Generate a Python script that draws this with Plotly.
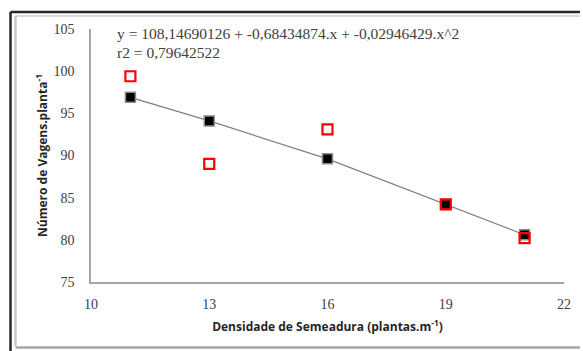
import plotly.graph_objects as go

densidade = [11, 13, 16, 19, 21]
observado = [99.4, 89.0, 93.1, 84.2, 80.2]
estimado = [96.9, 94.1, 89.6, 84.2, 80.6]
x_ticks = [10, 13, 16, 19, 22]
y_ticks = [75, 80, 85, 90, 95, 100, 105]
equacao = "y = 108,14690126 + -0,68434874.x + -0,02946429.x^2"
r2_txt = "r2 = 0,79642522"

SERIF = "Liberation Serif"

fig = go.Figure()
fig.add_trace(go.Scatter(
    x=densidade, y=estimado, mode="lines+markers",
    line=dict(color="#7f7f7f", width=1.2),
    marker=dict(symbol="square", size=10, color="black",
                line=dict(color="#8c8c8c", width=1.5)),
    showlegend=False))
fig.add_trace(go.Scatter(
    x=densidade, y=observado, mode="markers",
    marker=dict(symbol="square-open", size=10, color="#ff0000",
                line=dict(color="#ff0000", width=2.2)),
    showlegend=False))

tick_font = dict(family=SERIF, size=14, color="#404040")
title_font = dict(family="Open Sans", size=12, color="#262626")

fig.update_layout(
    width=583, height=351,
    margin=dict(l=91, r=16, t=29, b=69),
    paper_bgcolor="white", plot_bgcolor="white",
    xaxis=dict(range=[10, 22], tickvals=x_ticks, showgrid=False, zeroline=False,
               showline=True, linecolor="#a6a6a6", linewidth=1.5,
               ticks="", tickfont=tick_font, ticklabelstandoff=8,
               title=dict(text="<b>Densidade de Semeadura (plantas.m<sup>-1</sup>)</b>",
                          font=title_font, standoff=12)),
    yaxis=dict(range=[75, 105], tickvals=y_ticks, showgrid=False, zeroline=False,
               showline=True, linecolor="#a6a6a6", linewidth=1.5,
               ticks="", tickfont=tick_font, ticklabelstandoff=12,
               title=dict(text="<b>Número de Vagens.planta<sup>-1</sup></b>",
                          font=title_font, standoff=3)),
)

fig.add_annotation(x=10.6, y=104.5, xref="x", yref="y", text=equacao,
                   showarrow=False, xanchor="left", yanchor="middle",
                   font=dict(family=SERIF, size=15.5, color="#404040"))
fig.add_annotation(x=10.6, y=102.2, xref="x", yref="y", text=r2_txt,
                   showarrow=False, xanchor="left", yanchor="middle",
                   font=dict(family=SERIF, size=15.5, color="#404040"))

# frame
W, H = 583, 351
def px(x): return (x - 91) / (W - 91 - 16)
def py(y): return (H - 69 - y) / (H - 29 - 69)
fig.add_shape(type="line", xref="paper", yref="paper", x0=px(10), x1=px(583), y0=py(12), y1=py(12),
              line=dict(color="#262626", width=2.5))
fig.add_shape(type="line", xref="paper", yref="paper", x0=px(10), x1=px(10), y0=py(12), y1=py(351),
              line=dict(color="#262626", width=2.5))
fig.add_shape(type="line", xref="paper", yref="paper", x0=px(15), x1=px(583), y0=py(16), y1=py(16),
              line=dict(color="#d9d9d9", width=2))
fig.add_shape(type="line", xref="paper", yref="paper", x0=px(15), x1=px(15), y0=py(16), y1=py(346),
              line=dict(color="#c8c8c8", width=2.5))
fig.add_shape(type="line", xref="paper", yref="paper", x0=px(15), x1=px(583), y0=py(347.5), y1=py(347.5),
              line=dict(color="#a6a6a6", width=2.5))

fig.write_html("out.html")
